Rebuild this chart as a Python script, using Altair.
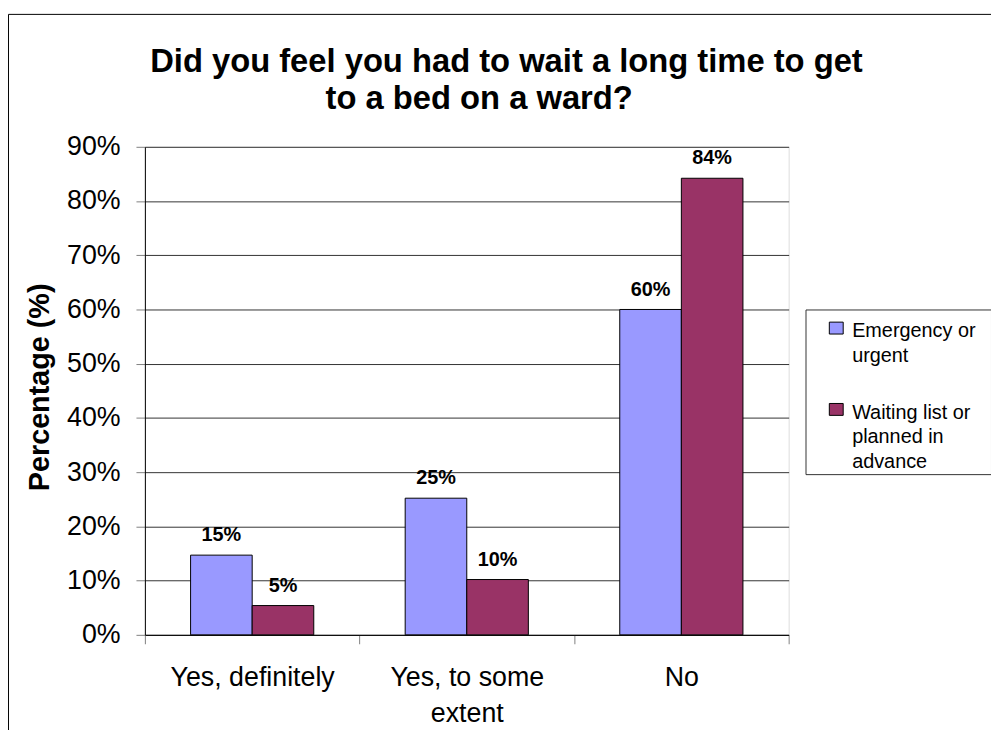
import altair as alt
import pandas as pd

categories = ["Yes, definitely", "Yes, to some extent", "No"]
series = ["Emergency or urgent", "Waiting list or planned in advance"]
emergency = [14.7, 25.2, 60.0]
waiting = [5.4, 10.2, 84.2]
colors = ["#9999FF", "#993366"]
y_ticks = [0, 10, 20, 30, 40, 50, 60, 70, 80, 90]
NB = "\u00a0"
HS = "\u200a"
ZW = "\u200b"
title_lines = ["Did you feel you had to wait a long time to get", "to a bed on a ward?" + NB * 6 + ZW]

rows = []
for c, e, w in zip(categories, emergency, waiting):
    rows.append({"category": c, "series": series[0], "value": e})
    rows.append({"category": c, "series": series[1], "value": w})
df = pd.DataFrame(rows)

FONT = "Liberation Sans"
W, H = 649, 492

x_enc = alt.X(
    "category:N",
    sort=categories,
    scale=alt.Scale(paddingInner=0, paddingOuter=0),
    axis=alt.Axis(
        title=None,
        labelAngle=0,
        labelExpr="datum.label == 'Yes, to some extent' ? ['Yes, to some', 'extent'] : datum.label",
        labelFontSize=27,
        labelLineHeight=36,
        labelPadding=21,
        tickBand="extent",
        tickSize=9,
        tickColor="#808080",
        domainColor="black",
        grid=False,
        labelColor="black",
        labelFont=FONT,
    ),
)
xoff_enc = alt.XOffset(
    "series:N", sort=series, scale=alt.Scale(paddingInner=0, paddingOuter=0.742)
)
y_enc = alt.Y(
    "value:Q",
    scale=alt.Scale(domain=[0, 90], nice=False),
    axis=alt.Axis(
        values=y_ticks,
        labelExpr="datum.value + '%'",
        title="Percentage (%)",
        titleFontSize=29,
        titleFontWeight="bold",
        titleFont=FONT,
        titleColor="black",
        titlePadding=12,
        titleY=242,
        labelFontSize=27,
        labelFont=FONT,
        labelColor="black",
        labelPadding=16,
        tickSize=9,
        tickColor="#808080",
        domainColor="black",
        grid=True,
        gridColor="#333333",
        gridWidth=1,
    ),
)

legend = alt.Legend(
    title=None,
    orient="none",
    legendX=666,
    legendY=164,
    strokeColor="#333333",
    padding=2,
    symbolType="M24,1.5H52V25.5H24Z",
    symbolSize=1,
    symbolStrokeColor="black",
    symbolStrokeWidth=1,
    labelFont=FONT,
    labelFontSize=20,
    labelColor="black",
    labelBaseline="top",
    labelOffset=25,
    labelLimit=600,
    rowPadding=27,
    labelExpr=(
        "datum.label == 'Emergency or urgent' ? ['Emergency or" + NB * 2 + HS + ZW
        + "', 'urgent'] : ['Waiting list or', 'planned in', 'advance']"
    ),
)

bars = alt.Chart(df).mark_bar(stroke="black", strokeWidth=1).encode(
    x=x_enc,
    xOffset=xoff_enc,
    y=y_enc,
    color=alt.Color(
        "series:N",
        sort=series,
        scale=alt.Scale(domain=series, range=colors),
        legend=legend,
    ),
)

labels = (
    alt.Chart(df)
    .transform_calculate(label="format(datum.value, '.0f') + '%'")
    .mark_text(
        font=FONT, fontSize=20, fontWeight="bold", color="black",
        baseline="alphabetic", dy=-14,
    )
    .encode(x=x_enc, xOffset=xoff_enc, y=y_enc, text="label:N")
)

frame = (
    alt.Chart(pd.DataFrame({"k": [0]}))
    .mark_rect(fillOpacity=0, stroke="black", strokeWidth=1)
    .encode(
        x=alt.value(-137.5),
        y=alt.value(-133.5),
        x2=alt.value(1300),
        y2=alt.value(1000),
    )
)

chart = (
    alt.layer(frame, bars, labels)
    .properties(
        width=W,
        height=H,
        padding={"left": 138, "top": 137, "right": 204, "bottom": 93},
        autosize=alt.AutoSizeParams(type="none"),
        title=alt.TitleParams(
            text=title_lines,
            font=FONT,
            fontSize=33,
            fontWeight="bold",
            lineHeight=37,
            anchor="middle",
            dx=40,
            offset=-103,
            color="black",
        ),
    )
    .configure_view(stroke="black", strokeWidth=1)
    .configure(style={"guide-label": {"lineHeight": 25}})
)

chart.save("out.html", embed_options={"renderer": "svg", "actions": False})
